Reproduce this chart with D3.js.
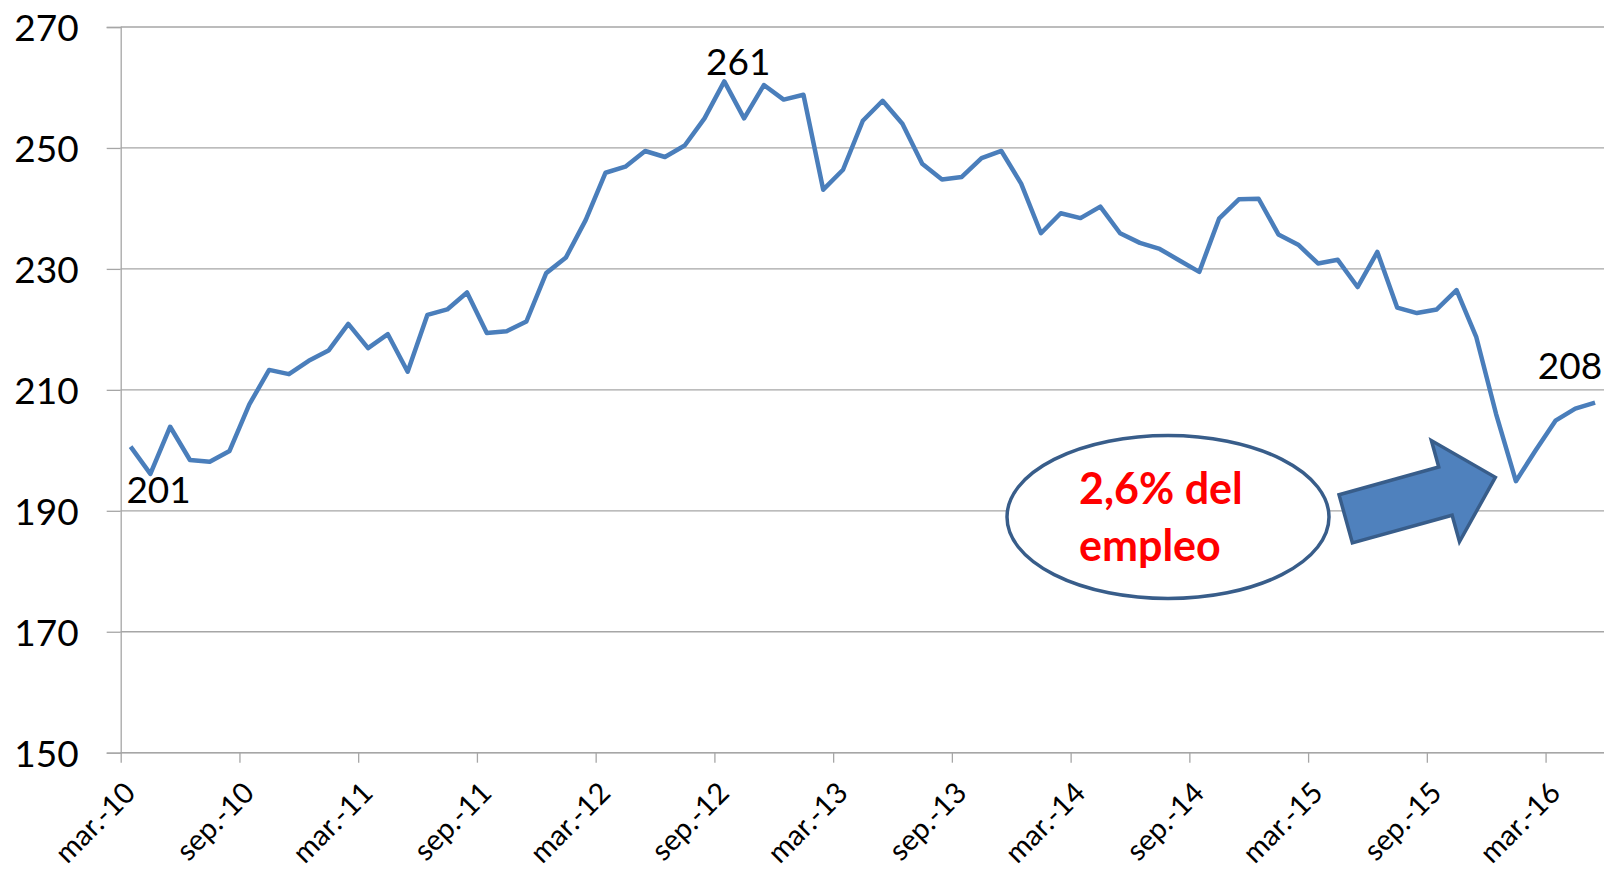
<!DOCTYPE html>
<html>
<head>
<meta charset="utf-8">
<script src="https://cdn.jsdelivr.net/npm/d3@7"></script>
<style>
  body { margin: 0; background: #fff; }
  svg { display: block; font-family: Lato, "Open Sans", sans-serif; }
</style>
</head>
<body>
<svg id="chart" width="1604" height="874"></svg>
<script>
// monthly values, mar-10 .. may-16
const values = [
  200.6, 196.1, 203.9, 198.4, 198.1, 199.9, 207.6, 213.3, 212.6, 214.8,
  216.5, 220.9, 216.9, 219.2, 213.0, 222.4, 223.3, 226.1, 219.4, 219.7,
  221.3, 229.3, 231.9, 238.1, 245.9, 246.9, 249.5, 248.5, 250.4, 254.9,
  261.0, 254.9, 260.4, 258.0, 258.8, 243.1, 246.4, 254.5, 257.8, 254.0,
  247.4, 244.8, 245.2, 248.3, 249.5, 244.1, 235.9, 239.2, 238.4, 240.3,
  235.9, 234.3, 233.3, 231.4, 229.5, 238.3, 241.5, 241.6, 235.7, 234.0,
  230.9, 231.5, 227.0, 232.8, 223.6, 222.7, 223.3, 226.5, 218.7, 206.0,
  194.9, 200.0, 204.9, 206.9, 207.9
];

const tickLabels = [
  "mar.-10", "sep.-10", "mar.-11", "sep.-11", "mar.-12", "sep.-12", "mar.-13",
  "sep.-13", "mar.-14", "sep.-14", "mar.-15", "sep.-15", "mar.-16"
];

const yTicks = [150, 170, 190, 210, 230, 250, 270];

// value labels: index into values, text
const pointLabels = [
  { i: 0, text: "201", dx: 28, dy: 56 },
  { i: 30, text: "261", dx: 14, dy: -6 },
  { i: 74, text: "208", dx: -25, dy: -24 }
];

const noteLines = ["2,6% del", "empleo"];

const svg = d3.select("#chart");
const margin = { top: 27, left: 120.7, bottom: 121.3 };
const W = 1604, H = 874;

const x = d3.scaleLinear()
  .domain([0, values.length])
  .range([margin.left, margin.left + values.length * 19.79]);

const y = d3.scaleLinear()
  .domain([150, 270])
  .range([H - margin.bottom, margin.top]);

const grey = "#a6a6a6";

// horizontal gridlines
svg.append("g")
  .selectAll("line")
  .data(yTicks)
  .join("line")
  .attr("x1", margin.left)
  .attr("x2", W)
  .attr("y1", d => y(d))
  .attr("y2", d => y(d))
  .attr("stroke", grey)
  .attr("stroke-width", 1.3);

// y axis
const yAxis = svg.append("g")
  .attr("transform", `translate(${margin.left},0)`)
  .call(d3.axisLeft(y).tickValues(yTicks).tickSize(14).tickPadding(28).tickFormat(d3.format("d")));
yAxis.select(".domain").attr("stroke", grey).attr("stroke-width", 1.3);
yAxis.selectAll(".tick line").attr("stroke", grey).attr("stroke-width", 1.3);
yAxis.selectAll(".tick text")
  .attr("font-family", "Lato")
  .attr("font-size", 37)
  .attr("fill", "#000")
  .attr("dy", "0.36em");

// x axis
const xAxis = svg.append("g")
  .attr("transform", `translate(0,${y(150)})`)
  .call(d3.axisBottom(x)
    .tickValues(d3.range(0, values.length, 6))
    .tickSize(10)
    .tickSizeOuter(0)
    .tickFormat(i => tickLabels[i / 6]));
xAxis.select(".domain").attr("stroke", grey).attr("stroke-width", 1.6)
  .attr("d", `M${margin.left},0H${W}`);
xAxis.selectAll(".tick line").attr("stroke", grey).attr("stroke-width", 1.3);
xAxis.selectAll(".tick text")
  .attr("font-family", "Lato")
  .attr("font-size", 29)
  .attr("fill", "#000")
  .attr("text-anchor", "end")
  .attr("y", 0)
  .attr("dy", 0)
  .attr("transform", "translate(16,42) rotate(-45)");

// series line
const line = d3.line()
  .x((d, i) => x(i + 0.5))
  .y(d => y(d));

svg.append("path")
  .datum(values)
  .attr("d", line)
  .attr("fill", "none")
  .attr("stroke", "#4a7ebb")
  .attr("stroke-width", 4.5)
  .attr("stroke-linejoin", "round");

// data labels
svg.append("g")
  .selectAll("text")
  .data(pointLabels)
  .join("text")
  .attr("x", d => x(d.i + 0.5) + d.dx)
  .attr("y", d => y(values[d.i]) + d.dy)
  .attr("text-anchor", "middle")
  .attr("font-family", "Lato")
  .attr("font-size", 37)
  .attr("fill", "#000")
  .text(d => d.text);

// annotation: ellipse with text
const note = svg.append("g");
note.append("ellipse")
  .attr("cx", 1168)
  .attr("cy", 517)
  .attr("rx", 161)
  .attr("ry", 81.5)
  .attr("fill", "#fff")
  .attr("stroke", "#385d8a")
  .attr("stroke-width", 3.5);

note.selectAll("text")
  .data(noteLines)
  .join("text")
  .attr("x", 1079)
  .attr("y", (d, i) => 504 + i * 57)
  .attr("font-family", "Lato")
  .attr("font-weight", "bold")
  .attr("font-size", 43)
  .attr("fill", "#ff0000")
  .text(d => d);

// block arrow pointing at the drop
const shaft = 103.5, len = 155.3, hw = 25, hh = 52.5;
const arrowPts = [
  [0, -hw], [shaft, -hw], [shaft, -hh], [len, 0], [shaft, hh], [shaft, hw], [0, hw]
];
svg.append("path")
  .attr("d", "M" + arrowPts.map(p => p.join(",")).join("L") + "Z")
  .attr("transform", "translate(1345.7,518.8) rotate(-15.5)")
  .attr("fill", "#4f81bd")
  .attr("stroke", "#385d8a")
  .attr("stroke-width", 3.5)
  .attr("stroke-linejoin", "miter");
</script>
</body>
</html>
